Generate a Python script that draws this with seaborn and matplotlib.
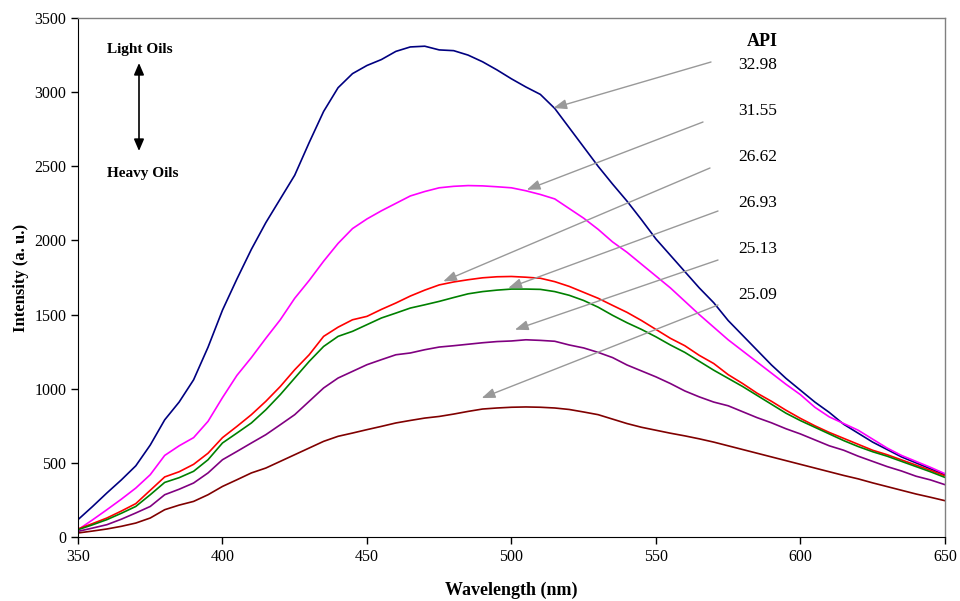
import numpy as np
import pandas as pd
import seaborn as sns
import matplotlib.pyplot as plt

# wavelength grid (nm)
wavelength = list(range(350, 651, 5))

# fluorescence spectra, one per crude oil (API gravity)
api_labels = ["32.98", "31.55", "26.62", "26.93", "25.13", "25.09"]
api_3298 = [117, 205, 297, 385, 480, 620, 790, 910, 1060, 1280, 1530, 1740, 1940, 2120, 2280, 2440,
            2660, 2870, 3030, 3125, 3180, 3220, 3275, 3305, 3310, 3285, 3280, 3250, 3205, 3150, 3090,
            3035, 2985, 2890, 2760, 2630, 2500, 2380, 2265, 2140, 2010, 1900, 1790, 1680, 1580, 1460,
            1360, 1260, 1160, 1070, 990, 910, 840, 760, 700, 640, 590, 540, 500, 460, 420]
api_3155 = [49, 115, 184, 255, 330, 420, 550, 615, 670, 780, 940, 1090, 1210, 1340, 1465, 1610,
            1730, 1860, 1980, 2080, 2145, 2200, 2250, 2300, 2330, 2355, 2365, 2370, 2368, 2362, 2355,
            2335, 2310, 2280, 2215, 2150, 2075, 1990, 1920, 1840, 1760, 1680, 1590, 1500, 1415, 1330,
            1255, 1180, 1105, 1030, 960, 875, 810, 765, 720, 660, 600, 550, 510, 470, 427]
api_2662 = [54, 90, 128, 175, 225, 315, 405, 440, 490, 565, 670, 746, 825, 915, 1015, 1128,
            1229, 1353, 1415, 1465, 1488, 1535, 1578, 1625, 1665, 1700, 1720, 1735, 1748, 1755, 1757,
            1752, 1745, 1722, 1690, 1650, 1610, 1562, 1515, 1460, 1400, 1340, 1290, 1225, 1170, 1095,
            1035, 970, 915, 855, 800, 750, 705, 665, 625, 585, 555, 520, 485, 450, 413]
api_2693 = [49, 82, 117, 160, 206, 285, 368, 400, 443, 521, 634, 701, 769, 858, 960, 1072,
            1184, 1285, 1353, 1387, 1432, 1477, 1510, 1544, 1566, 1589, 1615, 1640, 1655, 1665, 1672,
            1672, 1670, 1655, 1630, 1595, 1550, 1495, 1445, 1400, 1350, 1295, 1245, 1185, 1125, 1070,
            1015, 955, 895, 835, 785, 740, 695, 650, 610, 575, 545, 510, 475, 440, 402]
api_2513 = [38, 60, 83, 120, 162, 206, 285, 322, 364, 432, 521, 577, 634, 690, 757, 825,
            915, 1005, 1072, 1117, 1162, 1196, 1229, 1241, 1263, 1281, 1290, 1300, 1310, 1318, 1322,
            1330, 1326, 1320, 1295, 1275, 1245, 1210, 1160, 1120, 1080, 1035, 985, 945, 910, 885,
            845, 805, 770, 730, 695, 655, 615, 585, 545, 510, 475, 445, 410, 385, 353]
api_2509 = [27, 40, 54, 72, 94, 128, 184, 215, 240, 285, 341, 386, 432, 465, 510, 555,
            600, 645, 679, 701, 724, 746, 769, 786, 802, 813, 829, 847, 863, 870, 875,
            877, 875, 870, 860, 843, 825, 795, 765, 740, 720, 700, 682, 662, 640, 615,
            590, 565, 540, 515, 490, 465, 440, 415, 392, 365, 340, 315, 290, 268, 245]
colors = ["#000080", "#FF00FF", "#FF0000", "#008000", "#800080", "#800000"]

# where each label's arrow points (wavelength, intensity)
arrow_tips = [(514.5, 2893), (505.3, 2342), (476.4, 1724), (498.9, 1679), (501.2, 1398), (489.7, 937)]

series = [api_3298, api_3155, api_2662, api_2693, api_2513, api_2509]
df = pd.concat([pd.DataFrame({"wl": wavelength, "I": s, "API": lab})
                for s, lab in zip(series, api_labels)], ignore_index=True)

sns.set_style("ticks")
plt.rcParams["font.family"] = ["Liberation Serif", "DejaVu Serif"]
plt.rcParams["text.color"] = "black"
plt.rcParams["axes.labelcolor"] = "black"

fig = plt.figure(figsize=(9.6, 6.01), dpi=100)
ax = fig.add_axes([0.08125, 0.1065, 0.903, 0.8635])

sns.lineplot(data=df, x="wl", y="I", hue="API", hue_order=api_labels,
             palette=colors, linewidth=1.2, legend=False, ax=ax)

ax.set_xlim(350, 650)
ax.set_ylim(0, 3500)
ax.set_xticks(range(350, 651, 50))
ax.set_yticks(range(0, 3501, 500))
ax.tick_params(labelsize=11.5, length=5, width=1, colors="black", direction="out")
ax.set_xlabel("Wavelength (nm)", fontsize=13, fontweight="bold", labelpad=12)
ax.set_ylabel("Intensity (a. u.)", fontsize=12, fontweight="bold", labelpad=4)
for side in ["left", "bottom"]:
    ax.spines[side].set_color("black")
for side in ["top", "right"]:
    ax.spines[side].set_color("#808080")
    ax.spines[side].set_linewidth(1)

# API labels with grey arrows
ax.text(762, 601 - 42, "API", transform=None, fontsize=13, fontweight="bold",
        ha="center", va="center")
label_y = [65, 111, 157, 203, 249, 295]
tail_y = [62, 122, 168, 211, 260, 305]
tail_x = [711, 703, 710, 718, 718, 718]
for lab, ly, tx, ty, tip in zip(api_labels, label_y, tail_x, tail_y, arrow_tips):
    ax.text(758, 601 - ly, lab, transform=None, fontsize=12.5, ha="center", va="center")
    ax.annotate("", xy=tip, xycoords="data", xytext=(tx, 601 - ty), textcoords="figure pixels",
                arrowprops=dict(arrowstyle="-|>,head_length=0.8,head_width=0.3",
                                color="#999999", lw=1, shrinkA=0, shrinkB=0))

ax.text(107, 601 - 49, "Light Oils", transform=None, fontsize=11, fontweight="bold", va="center")
ax.text(107, 601 - 173, "Heavy Oils", transform=None, fontsize=11, fontweight="bold", va="center")
ax.annotate("", xy=(139, 601 - 63), xycoords="figure pixels", xytext=(139, 601 - 151),
            textcoords="figure pixels",
            arrowprops=dict(arrowstyle="<|-|>,head_length=0.7,head_width=0.3",
                            color="black", lw=1.2, shrinkA=0, shrinkB=0))

fig.savefig("out.png", dpi=100)
